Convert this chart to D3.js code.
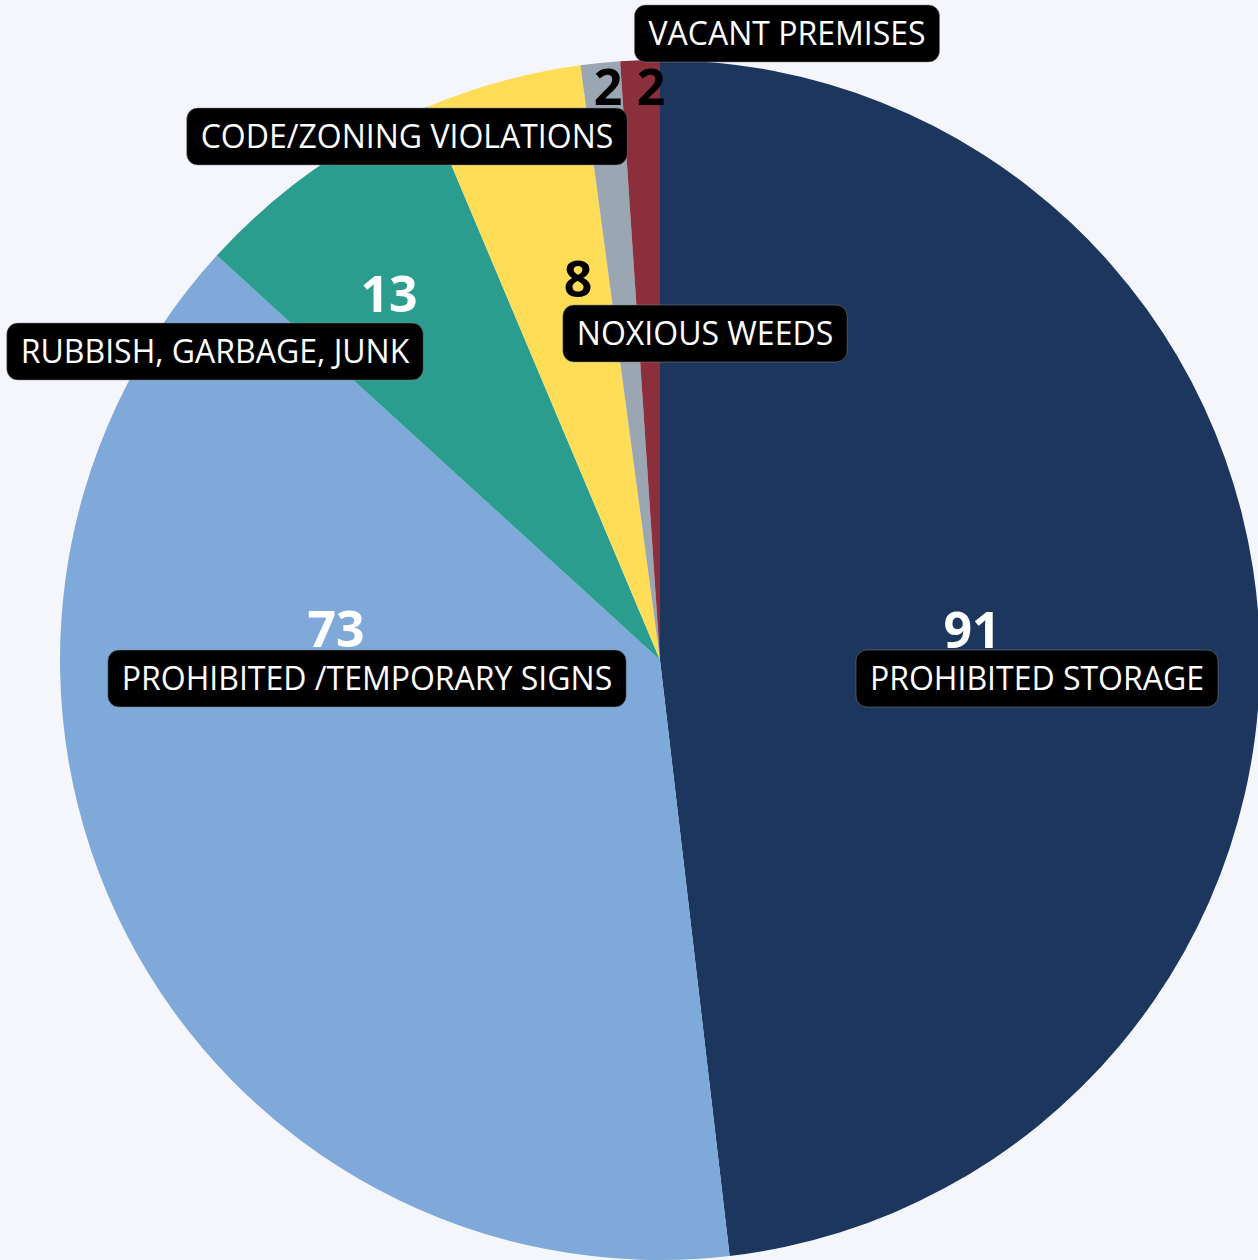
<!DOCTYPE html>
<html>
<head>
<meta charset="utf-8">
<script src="https://cdn.jsdelivr.net/npm/d3@7"></script>
<style>
  body { margin: 0; background: #f4f6fb; }
  svg { display: block; font-family: "Open Sans", sans-serif; }
</style>
</head>
<body>
<div id="pie-chart"></div>
<script>
const categories = [
  "PROHIBITED STORAGE",
  "PROHIBITED /TEMPORARY SIGNS",
  "RUBBISH, GARBAGE, JUNK",
  "NOXIOUS WEEDS",
  "CODE/ZONING VIOLATIONS",
  "VACANT PREMISES"
];
const counts = [91, 73, 13, 8, 2, 2];
const sliceColors = ["#1c365e", "#7ea9d9", "#2b9d8e", "#ffdd57", "#9aa6b2", "#8b2f3c"];
const numberColors = ["#fff", "#fff", "#fff", "#000", "#000", "#000"];

// where the labels sit, relative to the pie centre
// [number x, number baseline, box centre x, box top]
const labelSpots = [
  [312, -12, 377, -10],
  [-324, -13, -293, -10],
  [-271, -348, -445, -337],
  [-82, -363, 45, -355],
  [-52, -555, -253, -552],
  [-9, -555, 127, -655]
];

const width = 1258, height = 1260;
const cx = 660, cy = 660, radius = 600;

const svg = d3.select("#pie-chart")
  .append("svg")
  .attr("width", width)
  .attr("height", height);

svg.append("rect")
  .attr("width", width)
  .attr("height", height)
  .attr("fill", "#f4f6fb");

const g = svg.append("g")
  .attr("transform", `translate(${cx},${cy})`);

const pieData = categories.map((c, i) => ({ label: c, value: counts[i], i: i }));

const pie = d3.pie().sort(null).value((d) => d.value);
const arc = d3.arc().innerRadius(0).outerRadius(radius);

g.selectAll("path.slice")
  .data(pie(pieData))
  .enter()
  .append("path")
  .attr("class", "slice")
  .attr("d", arc)
  .attr("fill", (d) => sliceColors[d.data.i]);

const labels = g.selectAll("g.label")
  .data(pieData)
  .enter()
  .append("g")
  .attr("class", "label");

labels.append("text")
  .attr("x", (d) => labelSpots[d.i][0])
  .attr("y", (d) => labelSpots[d.i][1])
  .attr("text-anchor", "middle")
  .style("font-size", "50px")
  .style("font-weight", "bold")
  .attr("fill", (d) => numberColors[d.i])
  .text((d) => d.value);

labels.each(function (d) {
  const grp = d3.select(this);
  const spot = labelSpots[d.i];
  const box = grp.append("rect");
  const txt = grp.append("text")
    .attr("x", spot[2])
    .attr("y", spot[3] + 40)
    .attr("text-anchor", "middle")
    .style("font-size", "32px")
    .attr("fill", "#fff")
    .text(d.label);
  const w = txt.node().getComputedTextLength() + 28;
  box.attr("x", spot[2] - w / 2)
    .attr("y", spot[3])
    .attr("width", w)
    .attr("height", 57)
    .attr("rx", 11)
    .attr("fill", "#000")
    .attr("stroke", "#888")
    .attr("stroke-opacity", 0.5);
});
</script>
</body>
</html>
